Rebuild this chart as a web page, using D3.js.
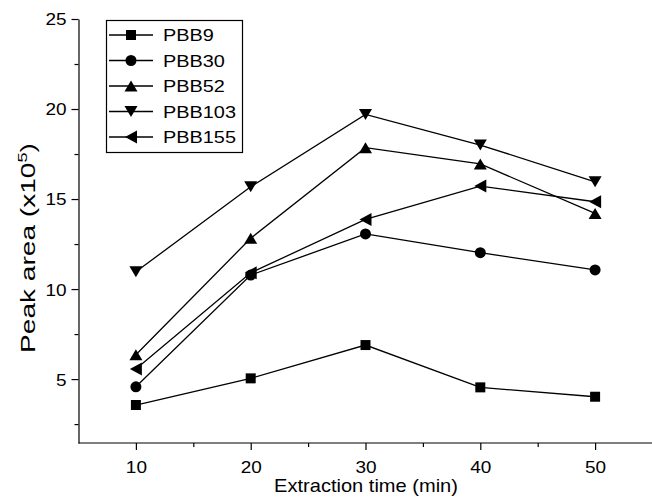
<!DOCTYPE html>
<html>
<head>
<meta charset="utf-8">
<script src="https://cdn.jsdelivr.net/npm/d3@7"></script>
<style>
  html, body { margin: 0; padding: 0; background: #fff; }
  svg { display: block; font-family: "Liberation Sans", Arial, sans-serif; }
  .axis path, .axis line { stroke: #000; stroke-width: 1.2; }
  .axis text { font-size: 16.5px; fill: #000; }
</style>
</head>
<body>
<div id="chart"></div>
<script>
// extraction times (min)
const times = [10, 20, 30, 40, 50];

// peak areas (x10^5)
const pbb9   = [3.56, 5.04, 6.89, 4.54, 4.02];
const pbb30  = [4.57, 10.78, 13.06, 12.02, 11.06];
const pbb52  = [6.35, 12.82, 17.85, 16.95, 14.2];
const pbb103 = [10.96, 15.68, 19.7, 18.0, 15.96];
const pbb155 = [5.56, 10.9, 13.87, 15.72, 14.85];

const seriesNames = ['PBB9', 'PBB30', 'PBB52', 'PBB103', 'PBB155'];
const seriesValues = [pbb9, pbb30, pbb52, pbb103, pbb155];
const seriesMarkers = ['square', 'circle', 'up', 'down', 'left'];

const xMajor = [10, 20, 30, 40, 50];
const xMinor = [15, 25, 35, 45, 55];
const yMajor = [5, 10, 15, 20, 25];
const yMinor = [2.5, 7.5, 12.5, 17.5, 22.5];

const width = 652;
const height = 497;
const wide = 1.15; // the original font is drawn a bit wider than Arial

const svg = d3.select('#chart').append('svg')
  .attr('width', width)
  .attr('height', height);

const xScale = d3.scaleLinear().domain([5, 55]).range([78.5, 652.5]);
const yScale = d3.scaleLinear().domain([1.45, 25]).range([443, 19]);

const x0 = xScale(5);
const yBottom = yScale(1.45);

// marker shapes, centred on the point
function markerPath(type) {
  const p = d3.path();
  if (type === 'square') {
    p.rect(-5, -5, 10, 10);
  } else if (type === 'circle') {
    p.arc(0, 0, 5.5, 0, 2 * Math.PI);
  } else if (type === 'up') {
    p.moveTo(0, -5.5); p.lineTo(6.5, 5.5); p.lineTo(-6.5, 5.5); p.closePath();
  } else if (type === 'down') {
    p.moveTo(0, 5.5); p.lineTo(6.5, -5.5); p.lineTo(-6.5, -5.5); p.closePath();
  } else if (type === 'left') {
    p.moveTo(-6, 0); p.lineTo(6, -6.5); p.lineTo(6, 6.5); p.closePath();
  }
  return p.toString();
}

// X axis
const xAxisG = svg.append('g')
  .attr('class', 'axis')
  .attr('transform', `translate(0, ${yBottom})`);
xAxisG.call(d3.axisBottom(xScale).tickValues(xMajor).tickSize(7).tickSizeOuter(0));
xAxisG.append('g')
  .call(d3.axisBottom(xScale).tickValues(xMinor).tickSize(4).tickFormat('').tickSizeOuter(0))
  .select('.domain').remove();
xAxisG.select('.domain').attr('d', `M${x0},0H${width}`);
xAxisG.selectAll('.tick text')
  .attr('x', 0).attr('y', 0).attr('dy', null)
  .attr('transform', `translate(0, 29.5) scale(${wide}, 1)`);

// Y axis
const yAxisG = svg.append('g')
  .attr('class', 'axis')
  .attr('transform', `translate(${x0}, 0)`);
yAxisG.call(d3.axisLeft(yScale).tickValues(yMajor).tickSize(7).tickSizeOuter(0));
yAxisG.append('g')
  .call(d3.axisLeft(yScale).tickValues(yMinor).tickSize(4).tickFormat('').tickSizeOuter(0))
  .select('.domain').remove();
yAxisG.selectAll('.tick text')
  .attr('x', 0).attr('dy', '0.36em')
  .attr('transform', `translate(-12, 0) scale(${wide}, 1)`);

// stretch factor that brings a text to a given length
function stretchTo(textSel, target) {
  const len = textSel.node().getComputedTextLength();
  return target / len;
}

// axis titles
const xTitle = svg.append('text')
  .attr('text-anchor', 'middle')
  .style('font-size', '17.5px')
  .text('Extraction time (min)');
const sx = stretchTo(xTitle, 184);
xTitle.attr('transform', `translate(366, 492) scale(${sx}, 1)`);

const yTitle = svg.append('text')
  .attr('text-anchor', 'middle')
  .style('font-size', '20px');
yTitle.append('tspan').text('Peak area (x10');
yTitle.append('tspan').attr('dy', -8).style('font-size', '13px').text('5');
yTitle.append('tspan').attr('dy', 8).text(')');
const sy = stretchTo(yTitle, 210);
yTitle.attr('transform', `translate(35, 248) rotate(-90) scale(${sy}, 1)`);

// lines and markers
const line = d3.line()
  .x((d, i) => xScale(times[i]))
  .y((d) => yScale(d));

seriesValues.forEach((vals, s) => {
  svg.append('path')
    .attr('d', line(vals))
    .attr('fill', 'none')
    .attr('stroke', '#000')
    .attr('stroke-width', 1.3);

  svg.append('g')
    .selectAll('path')
    .data(vals)
    .join('path')
    .attr('transform', (d, i) => `translate(${xScale(times[i])}, ${yScale(d)})`)
    .attr('d', markerPath(seriesMarkers[s]))
    .attr('fill', '#000');
});

// legend
const legend = svg.append('g');
legend.append('rect')
  .attr('x', 106.5).attr('y', 20.5)
  .attr('width', 136).attr('height', 132)
  .attr('fill', '#fff')
  .attr('stroke', '#000')
  .attr('stroke-width', 1.2);

const legendTexts = [];
seriesNames.forEach((name, s) => {
  const ly = 35 + s * 25.5;
  legend.append('line')
    .attr('x1', 109).attr('x2', 153)
    .attr('y1', ly).attr('y2', ly)
    .attr('stroke', '#000').attr('stroke-width', 1.3);
  legend.append('path')
    .attr('transform', `translate(131, ${ly})`)
    .attr('d', markerPath(seriesMarkers[s]))
    .attr('fill', '#000');
  const t = legend.append('text')
    .attr('dy', '0.36em')
    .style('font-size', '17px')
    .text(name);
  legendTexts.push([t, ly]);
});
const sl = stretchTo(legendTexts[4][0], 73);
legendTexts.forEach(([t, ly]) => t.attr('transform', `translate(163, ${ly}) scale(${sl}, 1)`));
</script>
</body>
</html>
